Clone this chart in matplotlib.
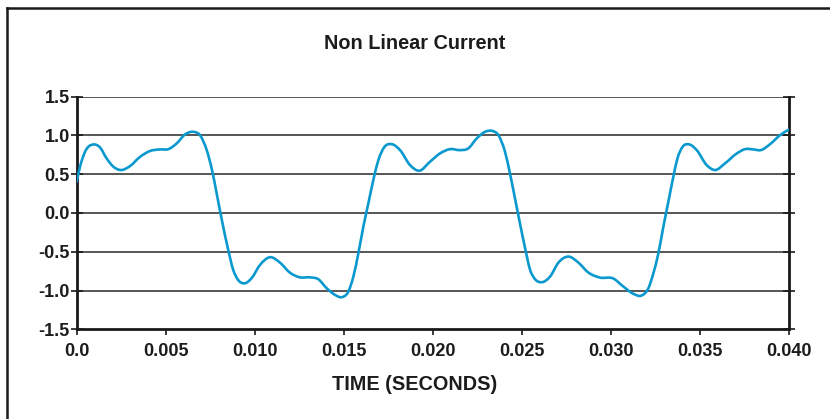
import numpy as np
import matplotlib
matplotlib.use("Agg")
import matplotlib.pyplot as plt
from matplotlib.path import Path
from matplotlib.patches import PathPatch
from matplotlib.lines import Line2D

# values (seconds, current)
time_s = [0.0, 0.00019, 0.00047, 0.00094, 0.00131, 0.00168, 0.00206, 0.00247,
          0.00299, 0.00356, 0.00412, 0.00468, 0.00515, 0.00561, 0.00608, 0.00655,
          0.00692, 0.0073, 0.0076, 0.0079, 0.0082, 0.0085, 0.00878, 0.00905,
          0.00945, 0.00982, 0.01029, 0.01085, 0.01141, 0.01197, 0.01253, 0.0131,
          0.01356, 0.01403, 0.0145, 0.01487, 0.01525, 0.01553, 0.01581, 0.01609,
          0.01637, 0.01665, 0.01693, 0.01725, 0.01768, 0.01815, 0.01871, 0.01923,
          0.01983, 0.02039, 0.02096, 0.02152, 0.02198, 0.02245, 0.02292, 0.0233,
          0.02367, 0.02404, 0.02432, 0.0246, 0.02488, 0.02517, 0.02545, 0.02573,
          0.0261, 0.02657, 0.02704, 0.0276, 0.02816, 0.02872, 0.02937, 0.03012,
          0.03068, 0.03125, 0.03171, 0.03209, 0.03237, 0.03265, 0.03293, 0.03321,
          0.03349, 0.03372, 0.03401, 0.03439, 0.0348, 0.03536, 0.03583, 0.03639,
          0.03705, 0.03752, 0.03798, 0.0384, 0.03892, 0.03948, 0.0400]
current = [0.403, 0.60, 0.79, 0.884, 0.845, 0.704, 0.597, 0.554,
           0.605, 0.725, 0.80, 0.82, 0.824, 0.897, 1.013, 1.047,
           1.004, 0.81, 0.55, 0.20, -0.15, -0.47, -0.73, -0.86,
           -0.906, -0.84, -0.67, -0.57, -0.64, -0.77, -0.83, -0.83,
           -0.854, -0.97, -1.056, -1.086, -1.013, -0.82, -0.52, -0.176,
           0.124, 0.425, 0.68, 0.845, 0.888, 0.811, 0.618, 0.545,
           0.661, 0.768, 0.824, 0.811, 0.833, 0.961, 1.047, 1.06,
           1.004, 0.79, 0.51, 0.19, -0.133, -0.455, -0.734, -0.854,
           -0.893, -0.82, -0.64, -0.562, -0.64, -0.768, -0.833, -0.845,
           -0.948, -1.043, -1.064, -0.97, -0.777, -0.52, -0.176, 0.146,
           0.468, 0.704, 0.854, 0.884, 0.811, 0.618, 0.554, 0.64,
           0.768, 0.824, 0.82, 0.811, 0.888, 1.004, 1.08]

x_ticks = [0.0, 0.005, 0.010, 0.015, 0.020, 0.025, 0.030, 0.035, 0.040]
x_tick_labels = ["0.0", "0.005", "0.010", "0.015", "0.020", "0.025", "0.030", "0.035", "0.040"]
y_ticks = [-1.5, -1.0, -0.5, 0.0, 0.5, 1.0, 1.5]
y_tick_labels = ["-1.5", "-1.0", "-0.5", "0.0", "0.5", "1.0", "1.5"]

LINE_COLOR = "#0a99cf"
TEXT_COLOR = "#1c1c1c"
FONT = "Liberation Sans"


def smooth_path(x, y):
    """Smoothed line through the points (C1 cubic, drawn as bezier segments)"""
    x = np.asarray(x, dtype=float)
    y = np.asarray(y, dtype=float)
    h = np.diff(x)
    d = np.diff(y) / h
    n = len(x)
    m = np.zeros(n)
    m[0] = d[0]
    m[-1] = d[-1]
    # three-point (parabolic) slope at inner points
    m[1:-1] = (h[1:] * d[:-1] + h[:-1] * d[1:]) / (h[:-1] + h[1:])
    verts = [(x[0], y[0])]
    codes = [Path.MOVETO]
    for k in range(n - 1):
        verts += [(x[k] + h[k] / 3, y[k] + m[k] * h[k] / 3),
                  (x[k + 1] - h[k] / 3, y[k + 1] - m[k + 1] * h[k] / 3),
                  (x[k + 1], y[k + 1])]
        codes += [Path.CURVE4] * 3
    return Path(verts, codes)


fig = plt.figure(figsize=(8.3, 4.19), dpi=100)
ax = fig.add_axes([0.0924, 0.2141, 0.8586, 0.5551])

# horizontal grid
for yv in y_ticks[1:]:
    ax.axhline(yv, color="#3a3a3a", lw=1.2, zorder=1)

ax.add_patch(PathPatch(smooth_path(time_s, current), facecolor="none",
                       edgecolor=LINE_COLOR, lw=1.9, zorder=3,
                       capstyle="round", joinstyle="round"))

ax.set_xlim(0, 0.04)
ax.set_ylim(-1.5, 1.5)
ax.set_xticks(x_ticks)
ax.set_xticklabels(x_tick_labels)
ax.set_yticks(y_ticks)
ax.set_yticklabels(y_tick_labels)

for side in ["left", "right", "bottom"]:
    ax.spines[side].set_linewidth(2.0)
    ax.spines[side].set_color("#1a1a1a")
ax.spines["top"].set_visible(False)

ax.tick_params(axis="y", direction="inout", length=8, width=1.2,
               right=True, labelright=False, pad=1, colors="#1a1a1a")
ax.tick_params(axis="x", direction="out", length=4, width=1.2, pad=6,
               colors="#1a1a1a")
for lab in ax.get_xticklabels() + ax.get_yticklabels():
    lab.set_fontfamily(FONT)
    lab.set_fontweight("bold")
    lab.set_fontsize(13)
    lab.set_color(TEXT_COLOR)

fig.text(0.5, 0.897, "Non Linear Current", ha="center", va="center",
         fontfamily=FONT, fontweight="bold", fontsize=14.3, color=TEXT_COLOR)
fig.text(0.5, 0.083, "TIME (SECONDS)", ha="center", va="center",
         fontfamily=FONT, fontweight="bold", fontsize=14.3, color=TEXT_COLOR)

# outer frame (only left and top edges show in the reference)
fig.add_artist(Line2D([0.0085, 0.0085], [0.0, 0.981], transform=fig.transFigure,
                      color="#1a1a1a", lw=1.8))
fig.add_artist(Line2D([0.0085, 1.0], [0.981, 0.981], transform=fig.transFigure,
                      color="#1a1a1a", lw=1.8))

fig.savefig("out.png", dpi=100)
